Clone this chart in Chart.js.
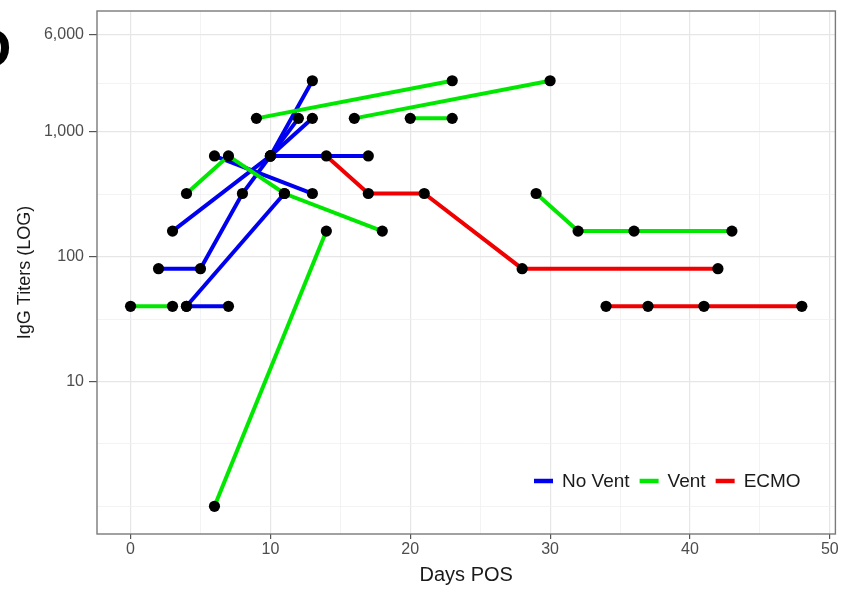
<!DOCTYPE html>
<html><head><meta charset="utf-8">
<script src="https://cdn.jsdelivr.net/npm/chart.js@4.4.0/dist/chart.umd.min.js"></script>
<style>html,body{margin:0;padding:0;background:#fff;} #wrap{width:841px;height:590px;}</style>
</head><body><div id="wrap"><canvas id="c" width="841" height="590"></canvas></div>
<script>
// ---- data ----
const groups = ['No Vent', 'Vent', 'ECMO'];
const xTicks = [0, 10, 20, 30, 40, 50];
const yTicks = [10, 100, 1000, 6000];
const xTitle = 'Days POS';
const yTitle = 'IgG Titers (LOG)';
const panelLabel = 'D';

// each subject: [day POS, IgG titer]
const noVent1 = [[2, 80], [5, 80], [8, 320], [10, 640], [13, 2560]];
const noVent2 = [[3, 160], [10, 640], [12, 1280]];
const noVent3 = [[10, 640], [13, 1280]];
const noVent4 = [[10, 640], [17, 640]];
const noVent5 = [[4, 40], [7, 40]];
const noVent6 = [[4, 40], [11, 320]];
const noVent7 = [[6, 640], [13, 320]];
const vent1 = [[0, 40], [3, 40]];
const vent2 = [[4, 320], [7, 640], [11, 320], [18, 160]];
const vent3 = [[6, 1], [14, 160]];
const vent4 = [[9, 1280], [23, 2560]];
const vent5 = [[16, 1280], [30, 2560]];
const vent6 = [[20, 1280], [23, 1280]];
const vent7 = [[29, 320], [32, 160], [36, 160], [43, 160]];
const ecmo1 = [[14, 640], [17, 320], [21, 320], [28, 80], [42, 80]];
const ecmo2 = [[34, 40], [37, 40], [41, 40], [48, 40]];

// ---- styling ----
const groupColors = ['#0000f0', '#00e800', '#f00000'];
const FONT = '"Liberation Sans", Arial, Helvetica, sans-serif';
const pathsByGroup = [
  [noVent1, noVent2, noVent3, noVent4, noVent5, noVent6, noVent7],
  [vent1, vent2, vent3, vent4, vent5, vent6, vent7],
  [ecmo1, ecmo2]
];

// axis limits with ggplot-like 5% expansion
const allPts = pathsByGroup.flat().flat();
const xs = allPts.map(p => p[0]);
const xLo = Math.min(...xs), xHi = Math.max(...xs);
const xPad = (xHi - xLo) * 0.05;
const yLoLog = Math.log10(Math.min(...allPts.map(p => p[1])));
const yHiLog = Math.log10(yTicks[yTicks.length - 1]);
const yPad = (yHiLog - yLoLog) * 0.05;

// grid positions
const xMinor = [];
for (let i = 0; i < xTicks.length - 1; i++) xMinor.push((xTicks[i] + xTicks[i + 1]) / 2);
const xGrid = [...xTicks, ...xMinor].sort((a, b) => a - b);
const logMaj = yTicks.map(Math.log10);
const ext = [logMaj[0] - (logMaj[1] - logMaj[0]), ...logMaj];
const yMinorLog = [ext[0]];
for (let i = 0; i < ext.length - 1; i++) yMinorLog.push((ext[i] + ext[i + 1]) / 2);
const yGrid = [...yTicks, ...yMinorLog.filter(l => l >= yLoLog - yPad).map(l => Math.pow(10, l))].sort((a, b) => a - b);
const isMajorX = v => xTicks.some(t => Math.abs(t - v) < 1e-6);
const isMajorY = v => yTicks.some(t => Math.abs(Math.log10(t) - Math.log10(v)) < 1e-6);

const datasets = [];
pathsByGroup.forEach((paths, g) => paths.forEach(p => datasets.push({
  label: groups[g],
  data: p.map(([x, y]) => ({ x, y })),
  showLine: true,
  borderColor: groupColors[g],
  backgroundColor: groupColors[g],
  borderWidth: 4,
  borderCapStyle: 'butt',
  pointRadius: 0,
  pointHoverRadius: 0,
  tension: 0,
  order: 3 - g
})));
datasets.push({
  label: 'points',
  data: allPts.map(([x, y]) => ({ x, y })),
  showLine: false,
  pointRadius: 5.6,
  pointHoverRadius: 5.6,
  pointBackgroundColor: '#000',
  pointBorderWidth: 0,
  order: 0
});

const frame = {
  id: 'frame',
  afterDatasetsDraw(chart) {
    const { ctx, chartArea: a } = chart;
    ctx.save();
    ctx.strokeStyle = '#7a7a7a';
    ctx.lineWidth = 1.4;
    ctx.strokeRect(a.left, a.top, a.right - a.left, a.bottom - a.top);
    ctx.restore();
  },
  afterDraw(chart) {
    const { ctx } = chart;
    ctx.save();
    // legend inside panel, bottom right
    ctx.font = '19px ' + FONT;
    ctx.textBaseline = 'middle';
    let x = 534;
    const y = 481;
    groups.forEach((g, i) => {
      ctx.strokeStyle = groupColors[i];
      ctx.lineWidth = 4.5;
      ctx.beginPath(); ctx.moveTo(x, y); ctx.lineTo(x + 19, y); ctx.stroke();
      x += 28;
      ctx.fillStyle = '#1a1a1a';
      ctx.fillText(g, x, y + 1);
      x += ctx.measureText(g).width + 10;
    });
    // cut-off panel label
    ctx.font = 'bold 56px ' + FONT;
    ctx.fillStyle = '#000';
    ctx.textBaseline = 'alphabetic';
    ctx.fillText(panelLabel, -29, 67);
    ctx.restore();
  }
};

new Chart(document.getElementById('c'), {
  type: 'scatter',
  data: { datasets },
  plugins: [frame],
  options: {
    responsive: false,
    animation: false,
    devicePixelRatio: 1,
    layout: { padding: { top: 11, right: 5, left: 0, bottom: 0 } },
    plugins: { legend: { display: false }, tooltip: { enabled: false } },
    scales: {
      x: {
        type: 'linear',
        min: xLo - xPad,
        max: xHi + xPad,
        afterBuildTicks: ax => { ax.ticks = xGrid.map(v => ({ value: v })); },
        afterFit: ax => { ax.height = 56; ax.paddingLeft = 0; ax.paddingRight = 0; },
        border: { display: false },
        grid: {
          color: c => isMajorX(c.tick.value) ? '#e6e6e6' : '#f0f0f0',
          lineWidth: c => isMajorX(c.tick.value) ? 1.2 : 0.8,
          tickColor: c => isMajorX(c.tick.value) ? '#555' : 'rgba(0,0,0,0)',
          tickLength: 5,
          drawTicks: true
        },
        ticks: {
          autoSkip: false, maxRotation: 0, padding: 1,
          color: '#4d4d4d', font: { family: FONT, size: 16 },
          callback: v => isMajorX(v) ? String(v) : ''
        },
        title: { display: true, text: xTitle, color: '#1a1a1a', font: { family: FONT, size: 20 }, padding: { top: 0, bottom: 3 } }
      },
      y: {
        type: 'logarithmic',
        min: Math.pow(10, yLoLog - yPad),
        max: Math.pow(10, yHiLog + yPad),
        afterBuildTicks: ax => { ax.ticks = yGrid.map(v => ({ value: v })); },
        afterFit: ax => { ax.width = 97; ax.paddingTop = 0; ax.paddingBottom = 0; },
        border: { display: false },
        grid: {
          color: c => isMajorY(c.tick.value) ? '#e6e6e6' : '#f0f0f0',
          lineWidth: c => isMajorY(c.tick.value) ? 1.2 : 0.8,
          tickColor: c => isMajorY(c.tick.value) ? '#555' : 'rgba(0,0,0,0)',
          tickLength: 8,
          drawTicks: true
        },
        ticks: {
          autoSkip: false, padding: 5,
          color: '#4d4d4d', font: { family: FONT, size: 16 },
          callback: v => isMajorY(v) ? Number(v).toLocaleString('en-US') : ''
        },
        title: { display: true, text: yTitle, color: '#1a1a1a', font: { family: FONT, size: 18 }, padding: { top: 14, bottom: 0 } }
      }
    }
  }
});
</script>
</body></html>
